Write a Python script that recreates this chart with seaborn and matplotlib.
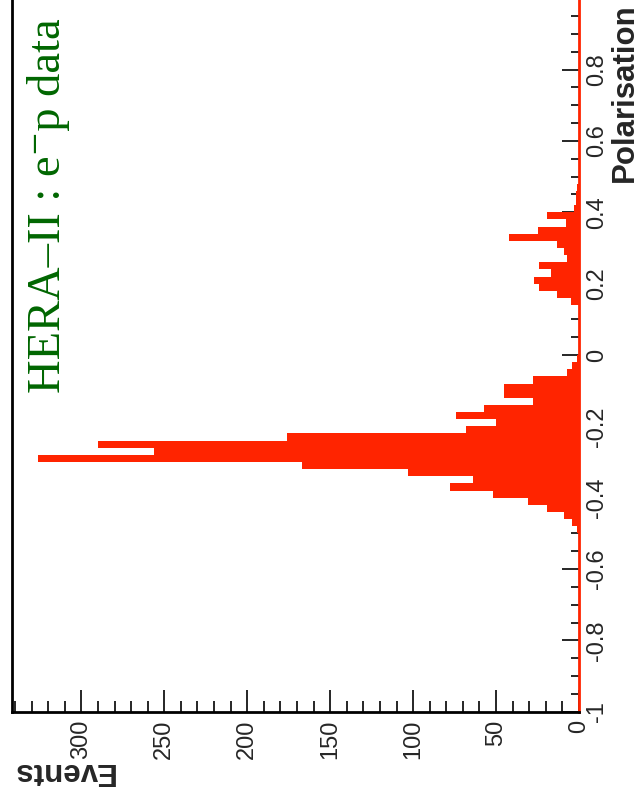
import numpy as np
import pandas as pd
import matplotlib
matplotlib.use("Agg")
import matplotlib.pyplot as plt
from matplotlib.ticker import MultipleLocator, FuncFormatter
import seaborn as sns

# lower edge of each 0.02-wide polarisation bin and its event count
bin_low = [-0.50, -0.48, -0.46, -0.44, -0.42, -0.40, -0.38, -0.36, -0.34, -0.32,
           -0.30, -0.28, -0.26, -0.24, -0.22, -0.20, -0.18, -0.16, -0.14, -0.12,
           -0.10, -0.08, -0.06, -0.04, -0.02,
           0.14, 0.16, 0.18, 0.20, 0.22, 0.24, 0.26, 0.28, 0.30, 0.32,
           0.34, 0.36, 0.38, 0.40, 0.42, 0.44, 0.46]
events = [1, 4, 9, 19, 31, 52, 78, 64, 103, 167,
          326, 256, 290, 176, 68, 50, 74, 57, 28, 45,
          45, 28, 7, 4, 1,
          5, 13, 24, 27, 17, 24, 7, 9, 13, 42,
          25, 8, 19, 3, 2, 2, 1]
bin_width = 0.02
pol_ticks = [-1, -0.8, -0.6, -0.4, -0.2, 0, 0.2, 0.4, 0.6, 0.8]
event_ticks = [0, 50, 100, 150, 200, 250, 300]

df = pd.DataFrame({"pol": np.array(bin_low) + bin_width / 2, "events": events})

sns.set_style("ticks")
plt.rcParams["font.family"] = ["Liberation Sans", "DejaVu Sans"]

fig = plt.figure(figsize=(6.41, 7.99), dpi=100)
W, H = 641, 799
ax = fig.add_axes([11.7 / W, (H - 711.7) / H, (579 - 11.7) / W, 713.4 / H])

sns.histplot(data=df, y="pol", weights="events", binwidth=bin_width,
             binrange=(-1, 1), color="#ff2400", alpha=1, linewidth=0, ax=ax)

ax.set_ylim(-1, 1)
ax.set_xlim(342, 0)
ax.set_xlabel("")
ax.set_ylabel("")

ax.yaxis.tick_right()
ax.set_yticks(pol_ticks)
ax.yaxis.set_minor_locator(MultipleLocator(0.05))
ax.yaxis.set_major_formatter(FuncFormatter(lambda v, p: "%g" % v))
ax.set_xticks(event_ticks)
ax.xaxis.set_minor_locator(MultipleLocator(10))

ax.tick_params(axis="y", which="major", direction="in", length=12.2, width=1.4,
               labelsize=17, pad=5, labelrotation=90, right=True, left=False)
ax.tick_params(axis="y", which="minor", direction="in", length=6.1, width=1.4,
               right=True, left=False)
ax.tick_params(axis="x", which="major", direction="in", length=16, width=1.4,
               labelsize=17, pad=6, labelrotation=90)
ax.tick_params(axis="x", which="minor", direction="in", length=8, width=1.4)
for lab in ax.get_yticklabels():
    lab.set_va("center")

for side in ["left", "bottom"]:
    ax.spines[side].set_linewidth(2)
    ax.spines[side].set_color("black")
ax.spines["right"].set_color("#ff2400")
ax.spines["right"].set_linewidth(2)
ax.spines["top"].set_visible(False)

fig.text(49 / W, 1 - 393 / H, "HERA\u2013II : e\u207bp data", rotation=90,
         color="#006600", fontsize=33.5, ha="center", va="bottom",
         family=["Liberation Serif", "DejaVu Serif"])
fig.text(625 / W, 1 - 3 / H, "Polarisation", rotation=90, fontsize=22.5,
         fontweight="bold", ha="center", va="top")
fig.text(63 / W, 1 - 771 / H, "Events", rotation=180, fontsize=22.5,
         fontweight="bold", ha="center", va="center")

fig.savefig("out.png", dpi=100)
